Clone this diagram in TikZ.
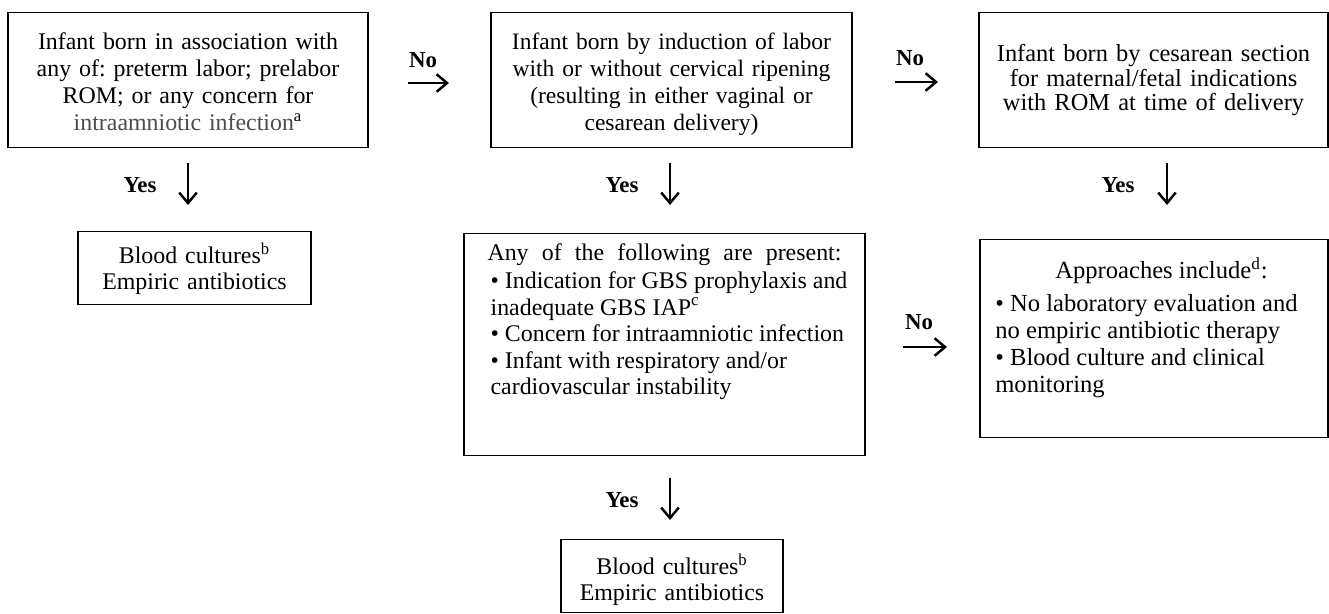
\documentclass[tikz,border=0pt]{standalone}
\usepackage{fontspec}
\setmainfont{Liberation Serif}
\usetikzlibrary{arrows.meta}
\frenchspacing
\tikzstyle{box}=[draw,line width=0.75pt,anchor=north,inner xsep=0pt,inner ysep=0pt,align=center,font=\fontsize{13.6}{15.3}\selectfont]
\tikzstyle{yesno}=[font=\fontsize{13}{15}\selectfont\bfseries]
\tikzstyle{arr}=[line width=1.4pt,-{Straight Barb[length=6pt,width=10pt]}]

\begin{document}
\begin{tikzpicture}[x=0.02cm,y=-0.02cm]
\useasboundingbox (0,0) rectangle (1329,613);
% top row
\node[box,minimum width=7.2cm,text width=7cm,text height=0.74cm,text depth=1.96cm] at (188,12) (preterm) {Infant born in association with\\any of: preterm labor; prelabor\\ROM; or any concern for\\{\color{black!70}intraamniotic infection}\textsuperscript{a}};
\node[box,minimum width=7.22cm,text width=7cm,font=\fontsize{13.4}{15.3}\selectfont,text height=0.74cm,text depth=1.96cm] at (671.5,12) (induction) {Infant born by induction of labor\\with or without cervical ripening\\(resulting in either vaginal or\\cesarean delivery)};
\node[box,minimum width=6.98cm,text width=6.8cm,font=\fontsize{13.9}{13.9}\selectfont,text height=0.98cm,text depth=1.72cm] at (1153.5,12) (cesarean) {Infant born by cesarean section\\for maternal/fetal indications\\with ROM at time of delivery};
% second row
\node[box,minimum width=4.66cm,text width=4.4cm,font=\fontsize{13.6}{14.5}\selectfont,text height=0.64cm,text depth=0.82cm] at (194.5,231) (cultures) {Blood cultures\textsuperscript{b}\\Empiric antibiotics};
\node[box,minimum width=8.02cm,font=\fontsize{13.6}{15.1}\selectfont,text height=0.54cm,text depth=3.9cm] at (664.5,233) (present) {\begin{tabular}[t]{@{\hspace{0.18cm}}l@{}}
\multicolumn{1}{@{}c@{}}{\makebox[7.08cm][s]{Any of the following are present:}}\\[0.8pt]
\textbullet{} Indication for GBS prophylaxis and\\
inadequate GBS IAP\textsuperscript{c}\\
\textbullet{} Concern for intraamniotic infection\\
\textbullet{} Infant with respiratory and/or\\
cardiovascular instability
\end{tabular}};
\node[box,minimum width=6.96cm,font=\fontsize{14}{15.3}\selectfont,text height=0.78cm,text depth=3.18cm] at (1154,239) (approach) {\begin{tabular}[t]{@{}l@{\hspace{0.3cm}}}
\multicolumn{1}{@{\hspace{0.3cm}}c@{}}{Approaches include\textsuperscript{d}:}\\[3.5pt]
\textbullet{} No laboratory evaluation and\\
no empiric antibiotic therapy\\
\textbullet{} Blood culture and clinical\\
monitoring
\end{tabular}};
% bottom
\node[box,minimum width=4.44cm,text width=4.2cm,font=\fontsize{13.6}{14.5}\selectfont,text height=0.7cm,text depth=0.76cm] at (672,539) (cultures2) {Blood cultures\textsuperscript{b}\\Empiric antibiotics};
% arrows
\node[yesno] at (423,60) (no1) {No};
\coordinate (no1a) at (408,83);
\coordinate (no1b) at (449,83);
\draw[arr] (no1a) -- (no1b);
\node[yesno] at (910,58) (no2) {No};
\coordinate (no2a) at (895,82);
\coordinate (no2b) at (938,82);
\draw[arr] (no2a) -- (no2b);
\node[yesno] at (919,322) (no3) {No};
\coordinate (no3a) at (903,347);
\coordinate (no3b) at (947,347);
\draw[arr] (no3a) -- (no3b);
\node[yesno] at (140,185) (yes1) {Yes};
\coordinate (yes1a) at (188,163);
\coordinate (yes1b) at (188,205);
\draw[arr] (yes1a) -- (yes1b);
\node[yesno] at (622,185) (yes2) {Yes};
\coordinate (yes2a) at (670,163);
\coordinate (yes2b) at (670,205);
\draw[arr] (yes2a) -- (yes2b);
\node[yesno] at (1118,185) (yes3) {Yes};
\coordinate (yes3a) at (1167,163);
\coordinate (yes3b) at (1167,205);
\draw[arr] (yes3a) -- (yes3b);
\node[yesno] at (622,500) (yes4) {Yes};
\coordinate (yes4a) at (670,478);
\coordinate (yes4b) at (670,520);
\draw[arr] (yes4a) -- (yes4b);
\end{tikzpicture}
\end{document}
